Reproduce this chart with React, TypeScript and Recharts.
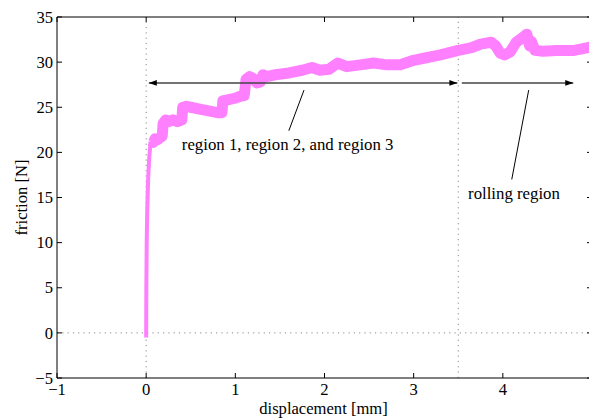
import React from 'react';
import { ComposedChart, Line, XAxis, YAxis, ReferenceLine, ReferenceDot } from 'recharts';

// initial rise of the friction force (thin part)
const riseX = [0, 0.002, 0.006, 0.012, 0.022, 0.035, 0.05];
const riseY = [-0.5, 5, 10, 13.5, 17, 19.5, 21.2];

// main friction trace (displacement [mm], friction [N])
const bandX = [0.05, 0.08, 0.1, 0.13, 0.15, 0.18, 0.19, 0.22, 0.25, 0.3, 0.35, 0.4, 0.41, 0.45, 0.5, 0.6, 0.7, 0.8, 0.85,
  0.86, 0.9, 0.95, 1.0, 1.05, 1.1, 1.12, 1.16, 1.2, 1.24, 1.28, 1.31, 1.35, 1.45, 1.6, 1.75, 1.86, 1.95, 2.05,
  2.15, 2.25, 2.4, 2.55, 2.7, 2.85, 3.0, 3.1, 3.3, 3.5, 3.65, 3.75, 3.87, 3.92, 3.97, 4.02, 4.08,
  4.15, 4.22, 4.27, 4.3, 4.32, 4.36, 4.45, 4.6, 4.8, 4.9, 5.0];
const bandY = [21.3, 21.1, 21.5, 21.4, 21.6, 21.8, 23.2, 23.6, 23.4, 23.6, 23.4, 23.6, 25.0, 25.1, 25.0, 24.8, 24.6, 24.4, 24.4,
  25.7, 25.8, 25.9, 26.0, 26.2, 26.3, 28.1, 28.4, 28.2, 27.7, 27.8, 28.6, 28.4, 28.6, 28.8, 29.1, 29.4, 29.1, 29.2,
  29.9, 29.5, 29.7, 29.9, 29.7, 29.7, 30.2, 30.4, 30.8, 31.3, 31.6, 32.0, 32.2, 31.8, 31.0, 30.8, 31.1,
  32.2, 32.7, 33.1, 31.8, 32.3, 31.3, 31.2, 31.3, 31.3, 31.5, 31.7];

const xTicks = [-1, 0, 1, 2, 3, 4, 5];
const yTicks = [-5, 0, 5, 10, 15, 20, 25, 30, 35];
const hiddenXTickLabels = [5];

const xLabel = 'displacement [mm]';
const yLabel = 'friction [N]';
const text1 = 'region 1, region 2, and region 3';
const text2 = 'rolling region';

const arrowY = 27.7;
const arrow1X = [0.03, 3.49];
const arrow2X = [3.54, 4.79];
const pointer1 = [[1.77, 26.9], [1.6, 22.4]];
const pointer2 = [[4.29, 26.9], [4.1, 17.0]];
const text1Pos = [0.4, 20.3];
const text2Pos = [3.61, 14.8];
const dividerX = 3.5;

const riseData = riseX.map((x, i) => ({ x, y: riseY[i] }));
const bandData = bandX.map((x, i) => ({ x, y: bandY[i] }));

const FONT = "'Liberation Serif', 'Times New Roman', serif";
const PINK = '#ff80ff';
const FS = 16.6;

const fmt = (v: number) => (v < 0 ? '\u2212' + Math.abs(v) : String(v));

const ArrowLeft = (p: any) => (
  <polygon points={`${p.cx},${p.cy} ${p.cx + 8},${p.cy - 2.8} ${p.cx + 8},${p.cy + 2.8}`} fill="#000" />
);
const ArrowRight = (p: any) => (
  <polygon points={`${p.cx},${p.cy} ${p.cx - 8},${p.cy - 2.8} ${p.cx - 8},${p.cy + 2.8}`} fill="#000" />
);
const makeText = (t: string) => (p: any) => (
  <text x={p.cx} y={p.cy} fontFamily={FONT} fontSize={16.8} fill="#000">{t}</text>
);

const XTick = (p: any) => {
  const v = p.payload.value;
  if (hiddenXTickLabels.includes(v)) return <g />;
  return (
    <text x={p.x} y={p.y} dy="0.7em" textAnchor="middle" fontFamily={FONT} fontSize={FS} fill="#000">{fmt(v)}</text>
  );
};
const YTick = (p: any) => (
  <text x={p.x} y={p.y} dy="0.34em" textAnchor="end" fontFamily={FONT} fontSize={FS} fill="#000">{fmt(p.payload.value)}</text>
);

const XLabel = (props: any) => {
  const vb = props.viewBox;
  return (
    <text x={vb.x + vb.width / 2 - 1} y={vb.y + 36} textAnchor="middle" fontFamily={FONT} fontSize={FS} fill="#000">
      {xLabel}
    </text>
  );
};
const YLabel = (props: any) => {
  const vb = props.viewBox;
  const x = vb.x + 27;
  const y = vb.y + vb.height / 2;
  return (
    <text x={x} y={y} textAnchor="middle" transform={`rotate(-90, ${x}, ${y})`} fontFamily={FONT} fontSize={FS} fill="#000">
      {yLabel}
    </text>
  );
};

const dotted = { stroke: '#888', strokeWidth: 1, strokeDasharray: '1.2 4.1' };

export default function App() {
  return (
    <div style={{ position: 'fixed', left: 0, top: 0, width: 589, height: 418, overflow: 'hidden', background: '#fff', fontFamily: FONT }}>
      <ComposedChart width={600} height={418} margin={{ top: 0, right: 0, bottom: 0, left: 0 }} style={{ fontFamily: FONT }}>
        <XAxis xAxisId={0} dataKey="x" type="number" domain={[-1, 5]} ticks={xTicks} interval={0}
          allowDataOverflow height={40} tickSize={-5} tickMargin={10.5}
          axisLine={{ stroke: '#000' }} tickLine={{ stroke: '#000' }} tick={XTick}
          label={{ value: xLabel, content: XLabel }} />
        <XAxis xAxisId="top" orientation="top" dataKey="x" type="number" domain={[-1, 5]} ticks={xTicks} interval={0}
          allowDataOverflow height={17} tickSize={-5} tickFormatter={() => ''}
          axisLine={{ stroke: '#000' }} tickLine={{ stroke: '#000' }} tick={() => <g />} />
        <YAxis yAxisId={0} dataKey="y" type="number" domain={[-5, 35]} ticks={yTicks} interval={0}
          allowDataOverflow width={57} tickSize={-5} tickMargin={9}
          axisLine={{ stroke: '#000' }} tickLine={{ stroke: '#000' }} tick={YTick}
          label={{ value: yLabel, content: YLabel }} />
        <YAxis yAxisId="right" orientation="right" dataKey="y" type="number" domain={[-5, 35]} ticks={yTicks} interval={0}
          allowDataOverflow width={8} tickSize={-5} tickFormatter={() => ''}
          axisLine={{ stroke: '#000' }} tickLine={{ stroke: '#000' }} tick={() => <g />} />

        <ReferenceLine x={0} {...dotted} />
        <ReferenceLine x={dividerX} {...dotted} />
        <ReferenceLine y={0} {...dotted} />

        <Line data={riseData} dataKey="y" stroke={PINK} strokeWidth={4} dot={false} isAnimationActive={false} strokeLinejoin="round" />
        <Line data={bandData} dataKey="y" stroke={PINK} strokeWidth={11} dot={false} isAnimationActive={false} strokeLinejoin="round" />

        <ReferenceLine segment={[{ x: arrow1X[0], y: arrowY }, { x: arrow1X[1], y: arrowY }]} stroke="#444" strokeWidth={1.5} />
        <ReferenceLine segment={[{ x: arrow2X[0], y: arrowY }, { x: arrow2X[1], y: arrowY }]} stroke="#444" strokeWidth={1.5} />
        <ReferenceDot x={arrow1X[0]} y={arrowY} shape={ArrowLeft} />
        <ReferenceDot x={arrow1X[1]} y={arrowY} shape={ArrowRight} />
        <ReferenceDot x={arrow2X[1]} y={arrowY} shape={ArrowRight} />

        <ReferenceLine segment={[{ x: pointer1[0][0], y: pointer1[0][1] }, { x: pointer1[1][0], y: pointer1[1][1] }]} stroke="#000" strokeWidth={1} />
        <ReferenceLine segment={[{ x: pointer2[0][0], y: pointer2[0][1] }, { x: pointer2[1][0], y: pointer2[1][1] }]} stroke="#000" strokeWidth={1} />
        <ReferenceDot x={text1Pos[0]} y={text1Pos[1]} shape={makeText(text1)} />
        <ReferenceDot x={text2Pos[0]} y={text2Pos[1]} shape={makeText(text2)} />
      </ComposedChart>
    </div>
  );
}
